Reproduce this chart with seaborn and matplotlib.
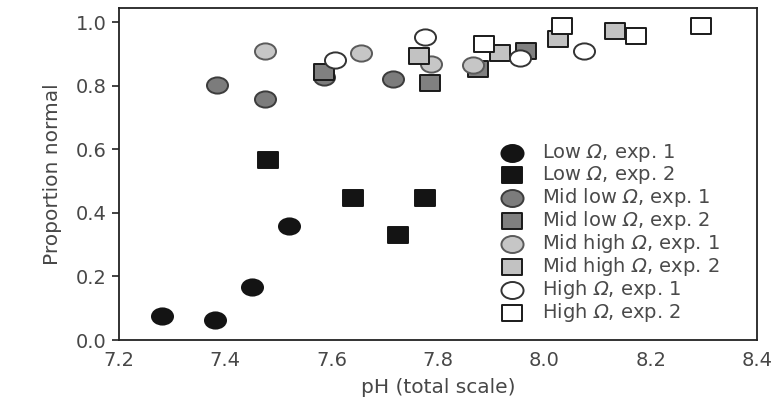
import matplotlib
matplotlib.use("Agg")
import matplotlib.pyplot as plt
from matplotlib.path import Path
from matplotlib.transforms import Affine2D
import seaborn as sns
import pandas as pd

# ---- data ----
low1_ph = [7.28, 7.38, 7.45, 7.52]
low1_p = [0.075, 0.063, 0.166, 0.358]
low2_ph = [7.48, 7.64, 7.725, 7.775]
low2_p = [0.565, 0.446, 0.331, 0.446]
midlow1_ph = [7.385, 7.475, 7.585, 7.715]
midlow1_p = [0.802, 0.758, 0.828, 0.820]
midlow2_ph = [7.585, 7.785, 7.875, 7.965]
midlow2_p = [0.844, 0.809, 0.852, 0.909]
midhigh1_ph = [7.475, 7.655, 7.787, 7.865]
midhigh1_p = [0.910, 0.901, 0.867, 0.865]
midhigh2_ph = [7.765, 7.917, 8.025, 8.132]
midhigh2_p = [0.893, 0.901, 0.947, 0.973]
high1_ph = [7.607, 7.775, 7.955, 8.074]
high1_p = [0.880, 0.954, 0.886, 0.909]
high2_ph = [7.887, 8.034, 8.172, 8.295]
high2_p = [0.931, 0.988, 0.957, 0.988]

labels = [r"Low $\Omega$, exp. 1", r"Low $\Omega$, exp. 2",
          r"Mid low $\Omega$, exp. 1", r"Mid low $\Omega$, exp. 2",
          r"Mid high $\Omega$, exp. 1", r"Mid high $\Omega$, exp. 2",
          r"High $\Omega$, exp. 1", r"High $\Omega$, exp. 2"]
xticks = [7.2, 7.4, 7.6, 7.8, 8.0, 8.2, 8.4]
yticks = [0.0, 0.2, 0.4, 0.6, 0.8, 1.0]

groups = [(low1_ph, low1_p), (low2_ph, low2_p), (midlow1_ph, midlow1_p), (midlow2_ph, midlow2_p),
          (midhigh1_ph, midhigh1_p), (midhigh2_ph, midhigh2_p), (high1_ph, high1_p), (high2_ph, high2_p)]

rows = []
for lab, (xs, ys) in zip(labels, groups):
    for x, y in zip(xs, ys):
        rows.append({"pH": x, "prop": y, "group": lab})
df = pd.DataFrame(rows)

sns.set_theme(style="white")
plt.rcParams["font.family"] = ["DejaVu Sans"]
plt.rcParams["mathtext.fontset"] = "custom"
plt.rcParams["mathtext.rm"] = "DejaVu Sans:italic"
plt.rcParams["mathtext.it"] = "DejaVu Sans:italic"

# the reference's marks are slightly wider than tall
ellipse = Path(Affine2D().scale(1.3, 1.0).transform(Path.unit_circle().vertices),
               Path.unit_circle().codes)
rect = Path(Affine2D().scale(1.24, 1.0).transform(Path.unit_rectangle().vertices - 0.5),
            Path.unit_rectangle().codes)

fills = ["#141414", "#141414", "#7c7c7c", "#808080", "#c6c6c6", "#c2c2c2", "#ffffff", "#ffffff"]
edges = ["#141414", "#141414", "#3c3c3c", "#1a1a1a", "#5a5a5a", "#1a1a1a", "#333333", "#1a1a1a"]
markers = [ellipse, rect, ellipse, rect, ellipse, rect, ellipse, rect]
sizes = [230, 190, 230, 190, 230, 190, 230, 190]

fig = plt.figure(figsize=(7.84, 4.09), dpi=100)
ax = fig.add_axes([0.1518, 0.1687, 0.8138, 0.8117])

for lab, fc, ec, m, s in zip(labels, fills, edges, markers, sizes):
    sub = df[df["group"] == lab]
    sns.scatterplot(data=sub, x="pH", y="prop", ax=ax, color=fc, edgecolor=ec,
                    marker=m, s=s, linewidth=1.4, label=lab, zorder=3)

ax.set_xlim(7.2, 8.4)
ax.set_ylim(0.0, 1.044)
ax.set_xticks(xticks)
ax.set_xticklabels([f"{v:.1f}" for v in xticks])
ax.set_yticks(yticks)
ax.set_yticklabels([f"{v:.1f}" for v in yticks])
ax.set_xlabel("pH (total scale)", fontsize=14.5, color="#474747", labelpad=6)
ax.set_ylabel("Proportion normal", fontsize=14.5, color="#474747", labelpad=10)
ax.tick_params(axis="x", direction="in", length=5, width=1.2, labelsize=14,
               labelcolor="#474747", color="#222222", pad=8)
ax.tick_params(axis="y", direction="out", length=5, width=1.2, labelsize=14,
               labelcolor="#474747", color="#222222", left=True, pad=4)
for sp in ax.spines.values():
    sp.set_visible(True)
    sp.set_color("#222222")
    sp.set_linewidth(1.3)

leg = ax.legend(loc="upper left", bbox_to_anchor=(0.5856, 0.619), frameon=False,
                fontsize=14, labelspacing=0.0, handletextpad=0.95, borderaxespad=0,
                handlelength=1.2, markerscale=1.05)
for t in leg.get_texts():
    t.set_color("#4a4a4a")

fig.savefig("out.png", dpi=100, facecolor="white")
